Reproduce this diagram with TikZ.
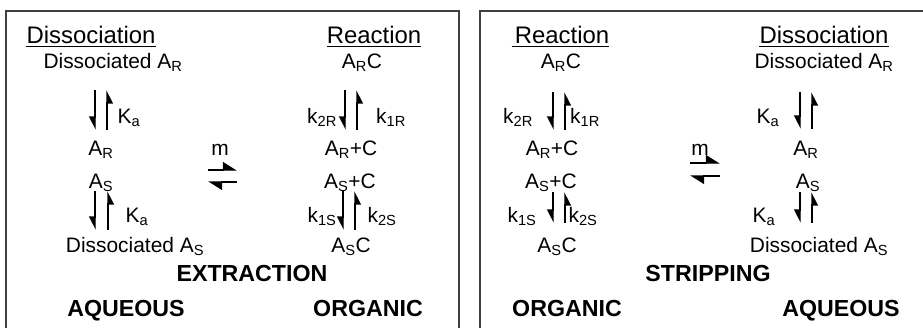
\documentclass[tikz,border=0pt]{standalone}
\usepackage{fontspec}
\setmainfont{Liberation Sans}
\usetikzlibrary{arrows.meta}
\newcommand\lo[1]{\textsubscript{#1}}
\tikzset{
  every node/.style={inner sep=0pt, anchor=base},
  body/.style={font=\fontsize{21}{25}\selectfont, text height=15bp, text depth=3bp},
  head/.style={font=\fontsize{24}{28}\selectfont},
  lbl/.style={font=\fontsize{23.3}{27}\selectfont\bfseries},
  frame/.style={draw=black!75, line width=1.2bp},
  uline/.style={line width=1.5bp},
  vharp/.style={line width=1.4bp, -{Triangle[harpoon,swap,length=12bp,width=12bp]}},
  hharp/.style={line width=1.4bp, -{Triangle[harpoon,length=13bp,width=16bp]}}
}
\begin{document}
\begin{tikzpicture}[x=1bp,y=-1bp]
\useasboundingbox (0,0) rectangle (923,327);
% panel frames (open at the bottom and right)
\draw[frame] (6,340) -- (6,11) -- (459,11) -- (459,340);
\draw[frame] (480,340) -- (480,11) -- (935,11);

% ---------- extraction panel ----------
\node[head] (hDis1) at (91,43) {Dissociation};
\node[head] (hRea1) at (374,43) {Reaction};
\draw[uline] ([yshift=-3.5bp]hDis1.base west) -- ([yshift=-3.5bp]hDis1.base east);
\draw[uline] ([yshift=-3.5bp]hRea1.base west) -- ([yshift=-3.5bp]hRea1.base east);

\node[body] (dAR1)  at (113,68.5) {Dissociated A\lo{R}};
\node[body] (ARC1)  at (362,68.5) {A\lo{R}C};
\node[body] (Ka1)   at (129,123)  {K\lo{a}};
\node[body] (k2R1)  at (322,123)  {k\lo{2R}};
\node[body] (k1R1)  at (391,123)  {k\lo{1R}};
\node[body] (AR1)   at (101,155)  {A\lo{R}};
\node[body] (m1)    at (220,155)  {m};
\node[body] (ARpC1) at (351,155)  {A\lo{R}+C};
\node[body] (AS1)   at (101,188)  {A\lo{S}};
\node[body] (ASpC1) at (350,188)  {A\lo{S}+C};
\node[body] (Ka2)   at (137,222)  {K\lo{a}};
\node[body] (k1S1)  at (322,222)  {k\lo{1S}};
\node[body] (k2S1)  at (382,222)  {k\lo{2S}};
\node[body] (dAS1)  at (135,252)  {Dissociated A\lo{S}};
\node[body] (ASC1)  at (351,252)  {A\lo{S}C};
\node[lbl]  (ext)   at (252,281)  {EXTRACTION};
\node[lbl]  (aq1)   at (126,316)  {AQUEOUS};
\node[lbl]  (org1)  at (368,316)  {ORGANIC};

% equilibrium arrows
\draw[vharp, shorten <=18.5bp, shorten >=10bp] (dAR1.south -| 95,0) -- (AR1.north -| 95,0);
\draw[vharp, shorten <=10bp, shorten >=18.5bp] (AR1.north -| 107,0) -- (dAR1.south -| 107,0);
\draw[vharp, shorten <=18.5bp, shorten >=10bp] (ARC1.south -| 345,0) -- (ARpC1.north -| 345,0);
\draw[vharp, shorten <=10bp, shorten >=18.5bp] (ARpC1.north -| 357,0) -- (ARC1.south -| 357,0);
\draw[vharp, shorten <=0bp, shorten >=7bp] (AS1.south -| 95,0) -- (dAS1.north -| 95,0);
\draw[vharp, shorten <=7bp, shorten >=0bp] (dAS1.north -| 108,0) -- (AS1.south -| 108,0);
\draw[vharp, shorten <=0bp, shorten >=7bp] (ASpC1.south -| 343,0) -- (ASC1.north -| 343,0);
\draw[vharp, shorten <=7bp, shorten >=0bp] (ASC1.north -| 355,0) -- (ASpC1.south -| 355,0);

\coordinate (mA1) at (208,170);
\coordinate (mB1) at (237,170);
\coordinate (mC1) at (208,182);
\coordinate (mD1) at (237,182);
\draw[hharp] (mA1) -- (mB1);
\draw[hharp] (mD1) -- (mC1);

% ---------- stripping panel ----------
\node[head] (hRea2) at (562,43) {Reaction};
\node[head] (hDis2) at (824,43) {Dissociation};
\draw[uline] ([yshift=-3.5bp,xshift=-3bp]hRea2.base west) -- ([yshift=-3.5bp]hRea2.base east);
\draw[uline] ([yshift=-3.5bp]hDis2.base west) -- ([yshift=-3.5bp]hDis2.base east);

\node[body] (ARC2)  at (561,68.5) {A\lo{R}C};
\node[body] (dAR2)  at (824,68.5) {Dissociated A\lo{R}};
\node[body] (k2R2)  at (518,123)  {k\lo{2R}};
\node[body] (k1R2)  at (585,123)  {k\lo{1R}};
\node[body] (Ka3)   at (768,123)  {K\lo{a}};
\node[body] (ARpC2) at (552,155)  {A\lo{R}+C};
\node[body] (m2)    at (700,155)  {m};
\node[body] (AR2)   at (806,155)  {A\lo{R}};
\node[body] (ASpC2) at (551,188)  {A\lo{S}+C};
\node[body] (AS2)   at (808,188)  {A\lo{S}};
\node[body] (k1S2)  at (522,222)  {k\lo{1S}};
\node[body] (k2S2)  at (583,222)  {k\lo{2S}};
\node[body] (Ka4)   at (764,222)  {K\lo{a}};
\node[body] (ASC2)  at (557,252)  {A\lo{S}C};
\node[body] (dAS2)  at (819,252)  {Dissociated A\lo{S}};
\node[lbl]  (strip) at (708,281)  {STRIPPING};
\node[lbl]  (org2)  at (567,316)  {ORGANIC};
\node[lbl]  (aq2)   at (841,316)  {AQUEOUS};

\draw[vharp, shorten <=20.5bp, shorten >=10bp] (ARC2.south -| 553,0) -- (ARpC2.north -| 553,0);
\draw[vharp, shorten <=10bp, shorten >=20.5bp] (ARpC2.north -| 565,0) -- (ARC2.south -| 565,0);
\draw[vharp, shorten <=20.5bp, shorten >=11bp] (dAR2.south -| 800,0) -- (AR2.north -| 800,0);
\draw[vharp, shorten <=11bp, shorten >=20.5bp] (AR2.north -| 812,0) -- (dAR2.south -| 812,0);
\draw[vharp, shorten <=1bp, shorten >=14bp] (ASpC2.south -| 553,0) -- (ASC2.north -| 553,0);
\draw[vharp, shorten <=14bp, shorten >=1bp] (ASC2.north -| 565,0) -- (ASpC2.south -| 565,0);
\draw[vharp, shorten <=1bp, shorten >=14bp] (AS2.south -| 800,0) -- (dAS2.north -| 800,0);
\draw[vharp, shorten <=14bp, shorten >=1bp] (dAS2.north -| 812,0) -- (AS2.south -| 812,0);

\coordinate (mA2) at (690,163);
\coordinate (mB2) at (720,163);
\coordinate (mC2) at (690,176);
\coordinate (mD2) at (720,176);
\draw[hharp] (mA2) -- (mB2);
\draw[hharp] (mD2) -- (mC2);
\end{tikzpicture}
\end{document}
